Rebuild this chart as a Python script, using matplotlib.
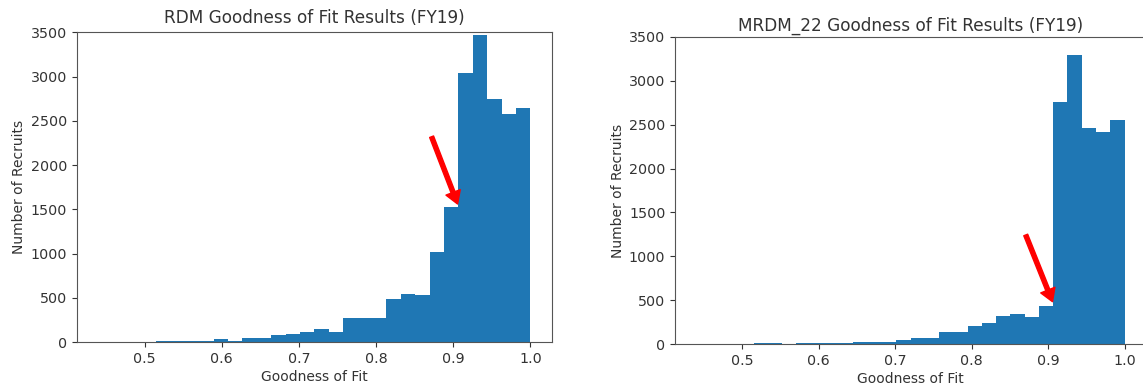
import numpy as np
import matplotlib
matplotlib.use("Agg")
import matplotlib.pyplot as plt

# ---- data ----
bin_min, bin_max, n_bins = 0.44, 1.0, 30

rdm_counts = [1, 0, 0, 0, 10, 12, 13, 15, 37, 15,
              52, 52, 84, 98, 116, 148, 115, 273, 273, 273,
              485, 550, 535, 1018, 1531, 3045, 3470, 2748, 2576, 2640]

mrdm_counts = [1, 0, 0, 0, 18, 18, 5, 14, 14, 14,
               15, 28, 30, 32, 50, 68, 70, 143, 145, 212,
               238, 325, 341, 314, 439, 2760, 3292, 2457, 2412, 2552]

titles = ["RDM Goodness of Fit Results (FY19)", "MRDM_22 Goodness of Fit Results (FY19)"]
xlabel = "Goodness of Fit"
ylabel = "Number of Recruits"
xticks = [0.5, 0.6, 0.7, 0.8, 0.9, 1.0]
yticks = [0, 500, 1000, 1500, 2000, 2500, 3000, 3500]

# arrows (tail, tip) in data coordinates
arrows = [((0.872, 2321), (0.9057, 1561)),
          ((0.8707, 1244), (0.9057, 485))]

edges = np.linspace(bin_min, bin_max, n_bins + 1)
centers = (edges[:-1] + edges[1:]) / 2

txt = "#333333"
spine_c = "#555555"

fig = plt.figure(figsize=(11.43, 3.91), dpi=100)
ax1 = fig.add_axes([0.0671, 0.1246, 0.4158, 0.7928])
ax2 = fig.add_axes([0.5906, 0.1194, 0.4120, 0.7868])

for ax, counts, title, (tail, tip), pad in zip([ax1, ax2], [rdm_counts, mrdm_counts], titles, arrows, [7, 4]):
    ax.hist(centers, bins=edges, weights=counts, color="#1f77b4")
    ax.set_xlim(0.412, 1.028)
    ax.set_ylim(0, 3500)
    ax.set_xticks(xticks)
    ax.set_xticklabels([f"{t:.1f}" for t in xticks])
    ax.set_yticks(yticks)
    ax.tick_params(labelsize=10.3, colors=txt, labelcolor=txt)
    for s in ax.spines.values():
        s.set_color(spine_c)
    ax.set_title(title, fontsize=12.2, color=txt, pad=pad)
    ax.set_xlabel(xlabel, fontsize=10, color=txt, labelpad=3)
    ax.set_ylabel(ylabel, fontsize=10, color=txt, labelpad=3)
    ax.annotate("", xy=tip, xytext=tail,
                arrowprops=dict(facecolor="red", edgecolor="red", width=3.0,
                                headwidth=11, headlength=9, shrink=0))

fig.savefig("out.png", dpi=100)
